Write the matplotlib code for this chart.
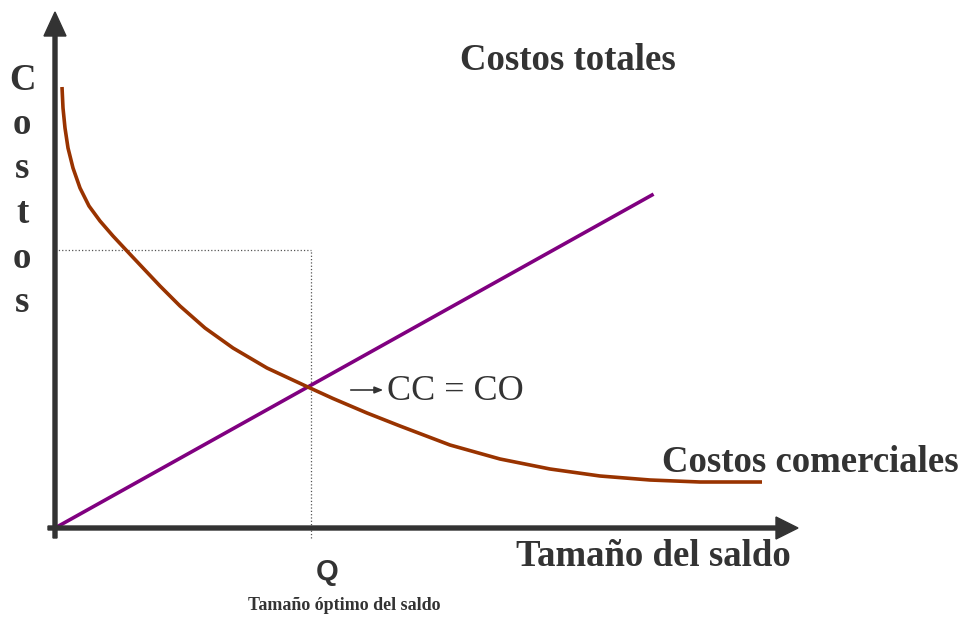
import matplotlib.pyplot as plt

# coordinates: origin of the drawn axes, units roughly one pixel
curve_x = [7, 8, 10, 13, 18, 25, 34, 45, 58, 72, 88, 105, 125, 150, 178, 212,
           255, 278, 312, 345, 395, 445, 495, 545, 595, 645, 707]
curve_y = [441, 420, 400, 380, 360, 340, 322, 307, 292, 277, 260, 242, 222, 200, 180, 160,
           140, 129.5, 115, 102, 83, 69, 59, 52, 48, 46, 46]

line_x = [0, 597]
line_y = [0, 333]

q_x = 256
q_y = 278

dark = '#333333'
brown = '#993300'
purple = '#800080'
serif = ['Liberation Serif', 'DejaVu Serif']

fig = plt.figure(figsize=(9.61, 6.18), dpi=100)
ax = fig.add_axes([0, 0, 1, 1])
ax.set_xlim(-55, 906)
ax.set_ylim(-90, 528)
ax.axis('off')

# axes with arrows
ax.arrow(0, -10, 0, 526, width=4, head_width=22, head_length=24,
         length_includes_head=True, color=dark, zorder=3)
ax.arrow(-7, 0, 750, 0, width=4, head_width=22, head_length=22,
         length_includes_head=True, color=dark, zorder=3)

# dotted guides
ax.plot([0, q_x], [q_y, q_y], ls=':', lw=0.9, color='#555555')
ax.plot([q_x, q_x], [-10, q_y], ls=':', lw=0.9, color='#555555')

ax.plot(line_x, line_y, color=purple, lw=2.6)
ax.plot(curve_x, curve_y, color=brown, lw=2.6, solid_capstyle='butt',
        solid_joinstyle='round')

ax.text(513, 467, 'Costos totales', family=serif, fontweight='bold',
        fontsize=26.5, color=dark, ha='center', va='center')
ax.text(755, 66, 'Costos comerciales', family=serif, fontweight='bold',
        fontsize=26.5, color=dark, ha='center', va='center')
ax.text(598, -29, 'Tamaño del saldo', family=serif, fontweight='bold',
        fontsize=26.5, color=dark, ha='center', va='center')
ax.text(272, -44, 'Q', family=['Liberation Sans', 'DejaVu Sans'], fontweight='bold',
        fontsize=21, color=dark, ha='center', va='center')
ax.text(289, -77, 'Tamaño óptimo del saldo', family=serif, fontweight='bold',
        fontsize=13, color=dark, ha='center', va='center')
ax.text(332, 136, 'CC = CO', family=serif, fontsize=26, color=dark,
        ha='left', va='center')
ax.annotate('', xy=(331, 138), xytext=(293, 138),
            arrowprops=dict(arrowstyle='-|>,head_length=0.5,head_width=0.2',
                            color=dark, lw=1.2))

for i, ch in enumerate('Costos'):
    ax.text(-33, 448 - i * 44.5, ch, family=serif, fontweight='bold',
            fontsize=26.5, color=dark, ha='center', va='center')

fig.savefig('out.png', dpi=100)
